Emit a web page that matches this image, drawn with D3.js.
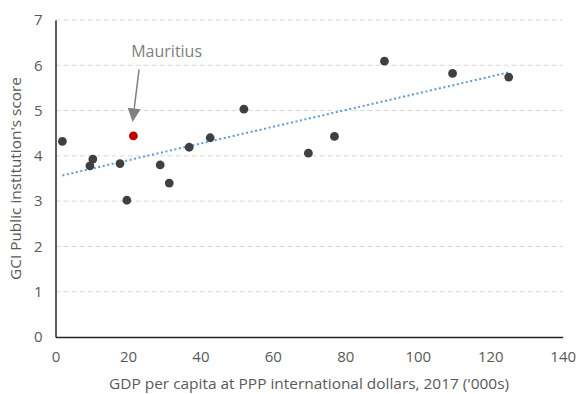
<!DOCTYPE html>
<html>
<head>
<meta charset="utf-8">
<script src="https://cdn.jsdelivr.net/npm/d3@7"></script>
<style>
  html, body { margin: 0; padding: 0; background: #fff; }
  svg { display: block; font-family: "Open Sans", "Liberation Sans", sans-serif; }
</style>
</head>
<body>
<svg id="chart" width="577" height="394"></svg>
<script>
// ---- data ----
const gdpPerCapita = [1.9, 9.5, 10.3, 17.8, 19.7, 21.5, 28.9, 31.4, 36.9, 42.7, 52.0, 69.8, 77.0, 90.8, 109.6, 125.1];
const publicInstScore = [4.32, 3.78, 3.93, 3.83, 3.02, 4.44, 3.80, 3.40, 4.19, 4.40, 5.03, 4.06, 4.43, 6.09, 5.82, 5.74];
const highlighted = [false, false, false, false, false, true, false, false, false, false, false, false, false, false, false, false];
const xTicks = [0, 20, 40, 60, 80, 100, 120, 140];
const yTicks = [0, 1, 2, 3, 4, 5, 6, 7];
const annotationLabel = "Mauritius";
const annotationText = [20.9, 6.19];   // data units: label left/baseline
const annotationArrow = [[23.07, 5.91], [21.27, 4.75]]; // from -> tip, data units
const xTitle = "GDP per capita at PPP international dollars, 2017 ('000s)";
const yTitle = "GCI Public institution's score";

// ---- layout ----
const svg = d3.select("#chart");
const x = d3.scaleLinear().domain([0, 140]).range([55.5, 562.7]);
const y = d3.scaleLinear().domain([0, 7]).range([337, 20]);
const data = gdpPerCapita.map((v, i) => ({ x: v, y: publicInstScore[i], hi: highlighted[i] }));

// gridlines
svg.append("g").selectAll("line").data(yTicks.filter(t => t > 0)).join("line")
  .attr("x1", x(0)).attr("x2", x(140))
  .attr("y1", d => y(d)).attr("y2", d => y(d))
  .attr("stroke", "#d9d9d9").attr("stroke-width", 1)
  .attr("stroke-dasharray", "5,3");

// axes
const xAxis = svg.append("g").attr("transform", `translate(0,${y(0)})`)
  .call(d3.axisBottom(x).tickValues(xTicks).tickSize(0).tickPadding(14).tickFormat(d3.format("d")));
const yAxis = svg.append("g").attr("transform", `translate(${x(0)},0)`)
  .call(d3.axisLeft(y).tickValues(yTicks).tickSize(0).tickPadding(13).tickFormat(d3.format("d")));
[xAxis, yAxis].forEach(a => {
  a.select(".domain").attr("stroke", "#262626").attr("stroke-width", 1.5);
  a.selectAll("text").attr("fill", "#595959").style("font-size", "15px").style("font-family", "'Open Sans', sans-serif");
});

// trendline (least squares over the points)
const mx = d3.mean(gdpPerCapita), my = d3.mean(publicInstScore);
const slope = d3.sum(data, d => (d.x - mx) * (d.y - my)) / d3.sum(data, d => (d.x - mx) ** 2);
const icpt = my - slope * mx;
const xe = d3.extent(gdpPerCapita);
svg.append("line")
  .attr("x1", x(xe[0])).attr("y1", y(icpt + slope * xe[0]))
  .attr("x2", x(xe[1])).attr("y2", y(icpt + slope * xe[1]))
  .attr("stroke", "#5b9bd5").attr("stroke-width", 2)
  .attr("stroke-dasharray", "2,2.6");

// points
svg.append("g").selectAll("circle").data(data).join("circle")
  .attr("cx", d => x(d.x)).attr("cy", d => y(d.y)).attr("r", 4.4)
  .attr("fill", d => d.hi ? "#c00000" : "#404040");

// annotation
svg.append("text").attr("x", x(annotationText[0])).attr("y", y(annotationText[1]))
  .attr("fill", "#808080").style("font-size", "16px").text(annotationLabel);
const [a0, a1] = annotationArrow;
const px0 = x(a0[0]), py0 = y(a0[1]), px1 = x(a1[0]), py1 = y(a1[1]);
const ang = Math.atan2(py1 - py0, px1 - px0);
const headLen = 13.5, headHalf = 6.5;
const bx = px1 - headLen * Math.cos(ang), by = py1 - headLen * Math.sin(ang);
svg.append("line").attr("x1", px0).attr("y1", py0).attr("x2", bx).attr("y2", by)
  .attr("stroke", "#808080").attr("stroke-width", 1.5);
svg.append("path")
  .attr("d", `M${px1},${py1}L${bx - headHalf * Math.sin(ang)},${by + headHalf * Math.cos(ang)}L${bx + headHalf * Math.sin(ang)},${by - headHalf * Math.cos(ang)}Z`)
  .attr("fill", "#808080");

// axis titles
svg.append("text").attr("x", (x(0) + x(140)) / 2).attr("y", 389)
  .attr("text-anchor", "middle").attr("fill", "#595959").style("font-size", "14px")
  .attr("textLength", 400).attr("lengthAdjust", "spacingAndGlyphs")
  .text(xTitle);
svg.append("text").attr("transform", "translate(21,178.5) rotate(-90)")
  .attr("text-anchor", "middle").attr("fill", "#595959").style("font-size", "14px")
  .attr("textLength", 203).attr("lengthAdjust", "spacingAndGlyphs")
  .text(yTitle);
</script>
</body>
</html>
